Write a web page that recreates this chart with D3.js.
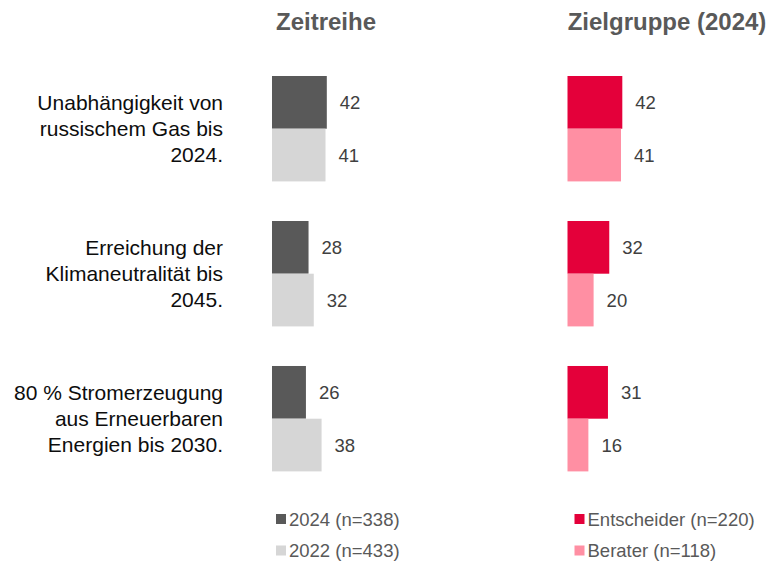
<!DOCTYPE html>
<html><head><meta charset="utf-8">
<script src="https://cdn.jsdelivr.net/npm/d3@7"></script>
<style>body{margin:0;background:#fff}svg{display:block}text{font-family:"Liberation Sans",Arial,sans-serif}</style>
</head><body><div id="chart"></div>
<script>
const categories = [
  ["Unabhängigkeit von", "russischem Gas bis", "2024."],
  ["Erreichung der", "Klimaneutralität bis", "2045."],
  ["80 % Stromerzeugung", "aus Erneuerbaren", "Energien bis 2030."]
];
const panelTitles = ["Zeitreihe", "Zielgruppe (2024)"];
const seriesNames = [["2024 (n=338)", "2022 (n=433)"], ["Entscheider (n=220)", "Berater (n=118)"]];
const values2024 = [42, 28, 26];
const values2022 = [41, 32, 38];
const valuesEntscheider = [42, 32, 31];
const valuesBerater = [41, 20, 16];
const colors = [["#595959", "#d6d6d6"], ["#e4003a", "#ff8fa3"]];

const W = 771, H = 562;
const svg = d3.select("#chart").append("svg").attr("width", W).attr("height", H);

const catIdx = categories.map((d, i) => i);
const y = d3.scaleBand().domain(catIdx).range([76, 471.4]).paddingInner(0.273).paddingOuter(0);
const ySub = d3.scaleBand().domain([0, 1]).range([0, y.bandwidth()]);

const panels = [
  {x0: 272, series: [values2024, values2022], center: 326},
  {x0: 567.5, series: [valuesEntscheider, valuesBerater], center: 667}
];

// category labels
const lab = svg.append("g");
categories.forEach((lines, i) => {
  const cy = y(i) + y.bandwidth() / 2;
  const t = lab.append("text").attr("text-anchor", "end").attr("fill", "#0d0d0d")
    .style("font-size", "21px");
  lines.forEach((ln, j) => {
    t.append("tspan").attr("x", 223).attr("y", cy + 7.5 + (j - 1) * 26).text(ln);
  });
});

panels.forEach((p, pi) => {
  const x = d3.scaleLinear().domain([0, 100]).range([p.x0, p.x0 + 130.5]);
  const g = svg.append("g");
  g.append("text").attr("x", p.center).attr("y", 30).attr("text-anchor", "middle")
    .attr("fill", "#595959").style("font-size", "24px").style("font-weight", "bold")
    .text(panelTitles[pi]);
  p.series.forEach((vals, si) => {
    g.selectAll(null).data(vals).enter().append("rect")
      .attr("x", x(0)).attr("y", (d, i) => y(i) + ySub(si))
      .attr("width", d => x(d) - x(0)).attr("height", ySub.bandwidth())
      .attr("fill", colors[pi][si]);
    g.selectAll(null).data(vals).enter().append("text")
      .attr("x", d => x(d) + 13).attr("y", (d, i) => y(i) + ySub(si) + ySub.bandwidth() / 2 + 7)
      .attr("fill", "#404040").style("font-size", "18.5px").text(d => d);
  });
  // legend
  seriesNames[pi].forEach((nm, si) => {
    const ly = 519 + si * 31.5;
    g.append("rect").attr("x", p.x0 + 4 + pi * 3).attr("y", ly - 5).attr("width", 10).attr("height", 10)
      .attr("fill", colors[pi][si]);
    g.append("text").attr("x", p.x0 + 17 + pi * 3).attr("y", ly + 6.5).attr("fill", "#595959")
      .style("font-size", "18.5px").text(nm);
  });
});
</script></body></html>
